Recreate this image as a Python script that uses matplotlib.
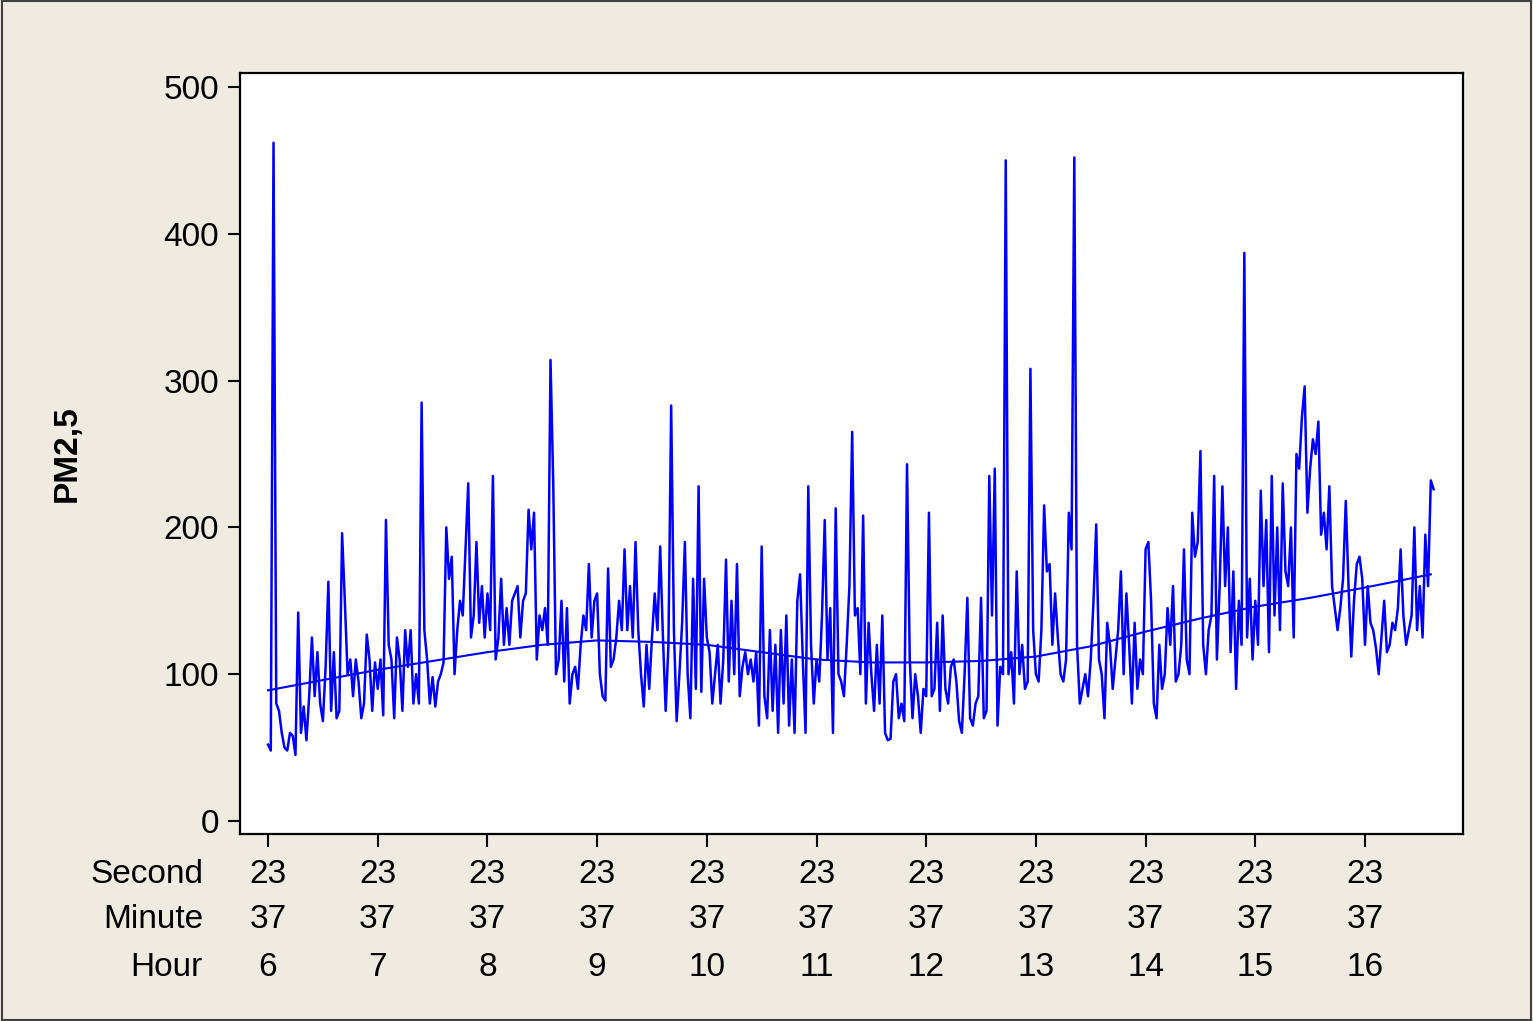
import matplotlib
matplotlib.use("Agg")
import matplotlib.pyplot as plt
import matplotlib.transforms as mtransforms
from matplotlib.patches import Rectangle
import numpy as np

plt.rcParams['font.family'] = ['Liberation Sans', 'DejaVu Sans']

# PM2.5 readings, 40 per hour, grouped by hour of day
pm_h06 = [52, 48, 462, 80, 75, 60, 50, 48, 60, 58, 45, 142, 60, 78, 55, 85, 125, 85, 115, 80,
          68, 105, 163, 75, 115, 70, 75, 196, 150, 100, 110, 85, 110, 95, 70, 80, 127, 110, 75, 108]
pm_h07 = [90, 110, 72, 205, 120, 110, 70, 125, 110, 75, 130, 105, 130, 80, 100, 80, 285, 130, 110, 80,
          98, 78, 95, 100, 108, 200, 165, 180, 100, 130, 150, 140, 185, 230, 125, 140, 190, 135, 160, 125]
pm_h08 = [155, 130, 235, 110, 125, 165, 120, 145, 120, 150, 155, 160, 125, 150, 155, 212, 185, 210, 110, 140,
          130, 145, 120, 314, 230, 100, 110, 150, 95, 145, 80, 100, 105, 90, 120, 140, 130, 175, 125, 150]
pm_h09 = [155, 100, 85, 82, 172, 105, 110, 125, 150, 130, 185, 130, 160, 125, 190, 130, 100, 78, 120, 90,
          125, 155, 130, 187, 125, 75, 120, 283, 130, 68, 100, 135, 190, 100, 70, 165, 90, 228, 88, 165]
pm_h10 = [125, 115, 80, 100, 120, 80, 110, 178, 95, 150, 100, 175, 85, 105, 115, 100, 110, 95, 115, 65,
          187, 85, 70, 130, 75, 120, 60, 130, 80, 140, 65, 110, 60, 150, 168, 110, 60, 228, 120, 80]
pm_h11 = [110, 95, 140, 205, 110, 145, 60, 213, 100, 95, 85, 120, 160, 265, 140, 145, 100, 208, 80, 135,
          100, 75, 120, 80, 140, 60, 55, 56, 95, 100, 70, 80, 68, 243, 110, 70, 100, 85, 60, 90]
pm_h12 = [85, 210, 85, 90, 135, 75, 140, 90, 80, 105, 110, 95, 68, 60, 100, 152, 70, 65, 80, 85,
          152, 70, 75, 235, 140, 240, 65, 105, 100, 450, 100, 115, 80, 170, 100, 120, 90, 95, 308, 130]
pm_h13 = [100, 95, 130, 215, 170, 175, 120, 155, 125, 100, 95, 110, 210, 185, 452, 120, 80, 90, 100, 85,
          110, 150, 202, 110, 100, 70, 135, 120, 90, 110, 130, 170, 100, 155, 120, 80, 135, 90, 110, 100]
pm_h14 = [185, 190, 150, 80, 70, 120, 90, 100, 145, 120, 160, 95, 100, 120, 185, 110, 100, 210, 180, 190,
          252, 120, 100, 130, 140, 235, 110, 160, 228, 160, 200, 115, 170, 90, 150, 120, 387, 125, 165, 110]
pm_h15 = [150, 120, 225, 160, 205, 115, 235, 140, 200, 130, 230, 170, 160, 200, 125, 250, 240, 275, 296, 210,
          240, 260, 250, 272, 195, 210, 185, 228, 160, 145, 130, 145, 165, 218, 160, 112, 150, 175, 180, 165]
pm_h16 = [120, 160, 135, 130, 118, 100, 125, 150, 115, 120, 135, 130, 145, 185, 140, 120, 130, 140, 200, 130,
          160, 125, 195, 160, 232, 226]

# fitted trend read at half-hour steps
trend_time = [6, 6.5, 7, 7.5, 8, 8.5, 9, 9.5, 10, 10.5, 11, 11.5, 12, 12.5, 13, 13.5, 14, 14.5, 15, 15.5, 16, 16.6]
trend_vals = [89, 96, 103, 109, 115, 120, 123, 122, 120, 115, 110, 108, 108, 109, 112, 119, 129, 138, 146, 152, 159, 168]

hours = [6, 7, 8, 9, 10, 11, 12, 13, 14, 15, 16]
seconds = ["23"] * len(hours)
minutes = ["37"] * len(hours)

pm = pm_h06 + pm_h07 + pm_h08 + pm_h09 + pm_h10 + pm_h11 + pm_h12 + pm_h13 + pm_h14 + pm_h15 + pm_h16
t = 6 + np.arange(len(pm)) / 40.0

bg = "#efebe1"
fig = plt.figure(figsize=(15.33, 10.21), dpi=100, facecolor=bg)
ax = fig.add_axes([0.1566, 0.1831, 0.7977, 0.7454])
ax.set_facecolor("white")

ax.plot(t, pm, color="#0000ff", lw=1.8)
ax.plot(trend_time, trend_vals, color="#0000ff", lw=1.5)

ax.set_xlim(5.745, 16.893)
ax.set_ylim(-8.9, 509.5)
ax.set_yticks([0, 100, 200, 300, 400, 500])
ax.set_xticks(hours)
ax.set_xticklabels([])
ax.tick_params(axis="both", length=9, width=1.5, labelsize=24, pad=6, color="black")
for s in ax.spines.values():
    s.set_linewidth(1.6)

ax.set_ylabel("PM2,5", fontsize=24, fontweight="bold", labelpad=58)

# three-row time stamp under the axis
trans = mtransforms.blended_transform_factory(ax.transData, fig.transFigure)
rows = [("Second", seconds, 0.143), ("Minute", minutes, 0.099), ("Hour", [str(h) for h in hours], 0.052)]
for name, labels, yf in rows:
    fig.text(0.1324, yf, name, ha="right", va="center", fontsize=24)
    for h, lab in zip(hours, labels):
        ax.text(h, yf, lab, transform=trans, ha="center", va="center", fontsize=24, clip_on=False)

fig.patches.append(Rectangle((0.001, 0.001), 0.998, 0.998, transform=fig.transFigure,
                             fill=False, edgecolor="#404040", lw=1.5))

fig.savefig("out.png", dpi=100, facecolor=bg)
